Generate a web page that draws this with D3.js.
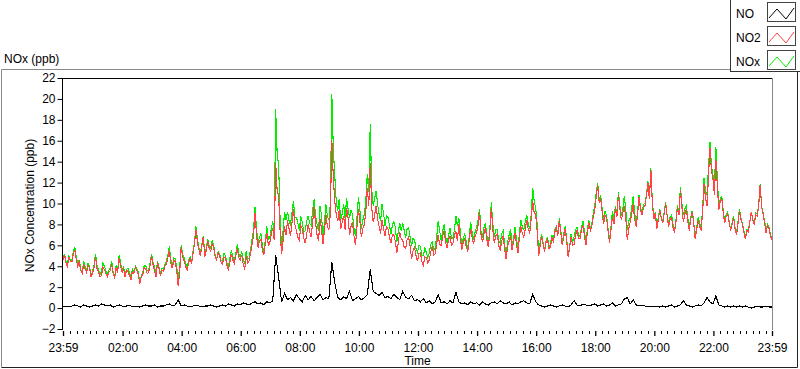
<!DOCTYPE html>
<html>
<head>
<meta charset="utf-8">
<script src="https://cdn.jsdelivr.net/npm/d3@7/dist/d3.min.js"></script>
<style>
  body { margin: 0; background: #fff; }
  text { font-family: "Liberation Sans", Arial, sans-serif; fill: #000; }
</style>
</head>
<body>
<div id="chart"></div>
<script>

// logging window 23:59 -> 23:59 next day
const START = new Date(2000, 0, 1, 23, 59);
const END = new Date(2000, 0, 2, 23, 59);
// NO2 / NOx read every 3 min, NO every 6 min
const STEP_NOX_MIN = 3;
const STEP_NO_MIN = 6;

const seriesNames = ["NO", "NO2", "NOx"];
const seriesColors = ["#000000", "#ff4444", "#00ee00"];

const yTicks = [-2, 0, 2, 4, 6, 8, 10, 12, 14, 16, 18, 20, 22];
const timeTickLabels = ["23:59", "02:00", "04:00", "06:00", "08:00", "10:00", "12:00",
                        "14:00", "16:00", "18:00", "20:00", "22:00", "23:59"];

const NO = [
  0.1,0.2,0.1,0.2,0.3,0.2,0.1,0.3,0.2,0.1,
  0.2,0.3,0.2,0.4,0.3,0.2,0.3,0.1,0.2,0.3,
  0.2,0.1,0.3,0.2,0.1,0.2,0.1,0.2,0.3,0.2,
  0.2,0.3,0.1,0.2,0.2,0.3,0.4,0.2,0.3,0.8,
  0.2,0.3,0.2,0.1,0.2,0.3,0.2,0.1,0.2,0.2,
  0.3,0.2,0.1,0.2,0.3,0.2,0.4,0.3,0.2,0.4,
  0.3,0.5,0.4,0.3,0.5,0.6,0.4,0.5,0.3,0.6,
  0.5,0.7,5.1,2.9,0.6,1.4,0.8,1.0,0.7,1.3,
  0.9,0.6,1.2,0.8,1.1,0.7,1.0,1.3,0.8,1.0,
  0.9,4.4,2.4,1.0,0.8,1.1,0.9,1.6,0.7,0.9,
  1.1,0.8,1.0,1.3,3.7,1.6,1.4,1.2,1.5,1.0,
  1.1,0.9,1.3,1.0,0.8,1.6,1.0,0.9,1.2,0.7,
  0.8,0.6,0.9,0.5,0.7,0.4,0.6,1.3,0.5,0.6,
  0.4,0.7,0.5,1.5,0.6,0.4,0.5,0.3,0.6,0.4,
  0.5,0.3,0.6,0.4,0.3,0.5,0.6,0.4,0.7,0.5,
  0.4,0.6,0.3,0.5,0.4,0.6,0.7,0.5,0.4,1.35,
  0.6,0.3,0.2,0.1,0.2,0.3,0.2,0.1,0.2,0.3,
  0.2,0.1,0.3,0.7,0.3,0.2,0.4,0.3,0.2,0.3,
  0.4,0.2,0.3,0.4,0.2,0.3,0.5,0.2,0.3,0.4,
  0.85,1.0,0.4,0.8,0.3,0.2,0.3,0.2,0.1,0.2,
  0.1,0.2,0.1,0.2,0.1,0.2,0.3,0.1,0.2,0.3,
  0.7,0.3,0.2,0.1,0.2,0.3,0.2,0.5,1.0,0.6,
  0.4,1.15,0.3,0.2,0.1,0.2,0.1,0.2,0.1,0.2,
  0.1,0.2,0.1,0.0,0.1,0.2,0.1,0.1,0.2,0.1,
  0.1
];

const NO2 = [
  4.6,5.1, 4.3,4.0, 4.9,4.5, 4.4,5.2, 5.5,4.6, 4.0,4.4, 3.6,3.3, 4.2,3.7, 3.4,4.1, 3.8,3.0,
  3.3,3.9, 4.9,3.8, 3.5,3.0, 3.1,3.9, 3.7,3.3, 3.0,3.4, 3.6,4.2, 3.2,2.9, 3.9,3.4, 4.8,4.0,
  3.4,3.8, 3.0,3.6, 3.5,3.1, 2.7,3.5, 3.3,3.9, 3.6,3.2, 2.3,3.0, 3.2,3.9, 3.8,3.3, 3.4,4.1,
  5.0,4.1, 3.6,3.0, 4.4,3.8, 3.1,3.6, 3.5,4.0, 4.2,4.8, 5.5,4.3, 3.8,4.6, 4.4,3.6, 2.1,3.4,
  5.8,4.9, 4.5,4.0, 3.6,4.3, 4.8,4.2, 5.2,6.1, 7.5,6.3, 5.6,5.0, 6.0,6.8, 4.9,5.5, 6.4,5.7,
  5.4,6.2, 5.8,4.9, 4.6,5.3, 5.0,4.4, 4.2,4.9, 4.8,4.1, 3.6,4.4, 5.2,4.6, 4.3,5.0, 5.7,4.8,
  4.6,5.1, 4.2,3.7, 5.0,4.3, 4.5,5.3, 6.1,6.9, 9.1,7.0, 5.8,6.4, 6.6,5.5, 5.1,6.2, 7.2,6.0,
  6.2,7.1, 7.6,6.5, 13.9,11.2, 10.8,7.3, 5.2,6.4, 7.8,7.0, 8.4,7.6, 6.9,8.1, 9.5,8.0, 7.4,6.8,
  6.5,7.9, 7.6,6.7, 6.2,7.1, 8.0,7.3, 6.8,8.2, 9.7,8.1, 7.0,6.4, 8.5,7.6, 6.1,7.4, 8.9,7.8,
  7.5,9.0, 16.1,12.5, 10.2,8.9, 8.3,9.4, 7.6,8.2, 8.8,7.5, 9.6,8.6, 7.0,7.8, 8.2,6.9, 6.0,7.7,
  9.5,8.3, 6.8,7.6, 8.0,9.2, 11.5,9.8, 13.9,9.6, 8.2,8.9, 9.8,8.5, 7.8,7.1, 8.4,7.6, 6.9,7.8,
  7.6,6.8, 6.2,7.0, 7.0,6.4, 5.3,6.3, 7.3,6.6, 6.5,5.8, 5.7,6.6, 6.8,5.9, 4.7,5.5, 5.8,5.0,
  4.5,5.2, 5.3,4.4, 4.1,4.9, 4.8,4.3, 4.6,5.4, 5.9,5.1, 5.2,6.2, 7.0,6.1, 6.0,6.8, 7.4,6.3,
  5.8,6.5, 6.9,6.0, 6.2,7.0, 7.3,6.4, 8.0,6.7, 5.6,6.3, 6.6,5.9, 5.4,6.5, 7.6,6.7, 6.1,6.9,
  7.2,7.9, 9.2,7.0, 6.3,7.1, 7.7,6.5, 5.8,7.3, 9.6,7.5, 6.2,6.9, 7.1,6.0, 5.5,6.4, 6.9,5.6,
  4.7,5.9, 6.4,7.0, 5.6,6.3, 7.2,6.1, 5.3,6.8, 7.8,7.1, 6.8,7.6, 8.4,7.5, 7.2,8.6, 10.2,9.1,
  9.0,7.4, 5.0,5.9, 6.9,6.1, 5.4,6.3, 6.6,5.7, 5.8,6.7, 6.4,7.3, 7.7,6.9, 8.4,7.2, 6.0,6.8,
  7.6,6.4, 4.9,5.8, 6.8,6.0, 6.1,7.0, 7.4,6.7, 6.6,7.5, 7.9,7.0, 6.0,7.2, 8.2,7.4, 7.8,8.7,
  9.4,10.6, 11.8,10.1, 10.5,9.2, 8.0,8.9, 8.6,7.4, 6.2,7.5, 8.8,8.0, 9.6,8.7, 10.8,9.5, 8.4,9.1,
  9.8,8.6, 6.5,7.6, 8.2,9.0, 9.9,8.5, 7.8,8.9, 10.6,9.4, 8.9,9.6, 9.8,10.7, 12.0,10.4, 13.2,10.0,
  8.5,9.1, 7.6,8.4, 9.4,8.6, 8.1,9.0, 10.0,8.8, 7.8,8.5, 8.6,7.7, 7.2,8.3, 9.6,8.9, 11.3,9.7,
  8.2,9.0, 9.5,8.3, 7.4,8.5, 9.2,8.1, 6.6,7.5, 8.4,7.8, 7.5,9.0, 11.9,10.5, 9.8,12.6, 15.3,13.1,
  12.4,10.8, 14.2,11.6, 9.4,10.2, 10.5,9.1, 8.1,8.8, 9.0,8.2, 7.4,8.0, 8.6,7.6, 7.0,8.1, 9.3,8.5,
  8.0,7.2, 6.6,7.4, 7.3,8.3, 9.2,8.4, 8.0,8.9, 8.8,9.8, 11.8,9.6, 9.0,8.1, 7.2,7.9, 7.6,6.9,
  6.5
];

const NOx = [
  4.7,5.2, 4.5,4.2, 5.0,4.6, 4.6,5.4, 5.8,4.9, 4.2,4.6, 3.7,3.4, 4.5,4.0, 3.6,4.3, 3.9,3.1,
  3.5,4.1, 5.2,4.1, 3.7,3.2, 3.5,4.3, 4.0,3.6, 3.2,3.6, 3.9,4.5, 3.3,3.0, 4.1,3.6, 5.1,4.3,
  3.6,4.0, 3.1,3.7, 3.8,3.4, 2.9,3.7, 3.4,4.0, 3.8,3.4, 2.4,3.1, 3.4,4.1, 4.1,3.6, 3.6,4.3,
  5.2,4.3, 3.9,3.3, 4.5,3.9, 3.3,3.8, 3.7,4.2, 4.5,5.1, 5.9,4.7, 4.0,4.8, 4.7,3.9, 2.9,3.8,
  6.0,5.1, 4.8,4.3, 3.8,4.5, 4.9,4.3, 5.4,6.3, 7.8,6.6, 5.8,5.2, 6.1,6.9, 5.1,5.7, 6.6,5.9,
  5.7,6.5, 6.0,5.1, 4.7,5.4, 5.2,4.6, 4.5,5.2, 5.0,4.3, 4.0,4.8, 5.5,4.9, 4.5,5.2, 6.1,5.2,
  4.9,5.4, 4.7,4.2, 5.4,4.7, 4.8,5.6, 6.6,7.4, 9.7,7.6, 6.2,6.8, 7.1,6.0, 5.4,6.5, 7.8,6.6,
  6.7,7.6, 8.3,7.2, 19.0,14.7, 13.7,8.3, 5.8,7.4, 9.2,8.4, 9.2,8.4, 7.9,9.1, 10.2,8.7, 8.7,8.1,
  7.4,8.8, 8.2,7.3, 7.4,8.3, 8.8,8.1, 7.9,9.3, 10.4,8.8, 8.0,7.4, 9.8,8.9, 6.9,8.2, 9.9,8.8,
  8.4,9.9, 20.5,15.3, 12.6,10.2, 9.3,10.4, 8.4,9.0, 9.9,8.6, 10.5,9.5, 8.6,9.4, 8.9,7.6, 6.9,8.6,
  10.6,9.4, 7.6,8.4, 9.0,10.2, 12.8,11.1, 17.6,11.4, 9.8,10.5, 11.2,9.9, 9.0,8.3, 9.9,9.1, 7.9,8.8,
  8.7,7.9, 7.1,7.9, 8.3,7.7, 6.3,7.3, 8.1,7.4, 8.1,7.4, 6.7,7.6, 7.7,6.8, 5.9,6.7, 6.5,5.7,
  5.3,6.0, 5.9,5.0, 5.0,5.8, 5.3,4.8, 5.3,6.1, 6.3,5.5, 5.8,6.8, 8.3,7.4, 6.5,7.3, 8.0,6.9,
  6.2,6.9, 7.6,6.7, 6.7,7.5, 8.8,7.9, 8.6,7.3, 6.0,6.7, 7.1,6.4, 5.7,6.8, 8.2,7.3, 6.5,7.3,
  7.7,8.4, 9.5,7.3, 6.9,7.7, 8.1,6.9, 6.1,7.6, 10.1,8.0, 6.8,7.5, 7.5,6.4, 6.2,7.1, 7.4,6.1,
  5.1,6.3, 7.0,7.6, 5.9,6.6, 7.7,6.6, 5.7,7.2, 8.4,7.7, 7.5,8.3, 8.9,8.0, 7.6,9.0, 11.5,10.2,
  9.6,8.0, 5.3,6.2, 7.1,6.3, 5.5,6.4, 6.8,5.9, 6.1,7.0, 6.6,7.5, 7.8,7.0, 8.6,7.4, 6.3,7.1,
  7.8,6.6, 5.0,5.9, 7.1,6.3, 6.8,7.5, 7.7,7.0, 6.8,7.7, 8.3,7.4, 6.3,7.5, 8.4,7.6, 8.1,9.0,
  9.8,11.0, 12.0,10.3, 10.8,9.5, 8.4,9.3, 8.8,7.6, 6.5,7.8, 9.3,8.5, 9.8,8.9, 11.1,9.8, 8.8,9.5,
  10.7,9.5, 7.5,8.3, 8.6,9.6, 10.7,9.1, 8.1,9.2, 10.8,9.6, 9.2,9.9, 10.0,10.9, 12.1,10.5, 13.4,10.2,
  8.6,9.2, 7.8,8.6, 9.5,8.7, 8.3,9.2, 10.1,8.9, 8.0,8.7, 8.9,8.0, 7.3,8.4, 9.8,9.1, 11.6,10.0,
  8.9,9.5, 9.8,8.6, 7.6,8.7, 9.3,8.2, 6.8,7.7, 8.7,8.1, 7.7,9.3, 12.4,11.2, 10.8,13.4, 15.9,13.6,
  12.8,11.6, 15.4,12.3, 9.7,10.5, 10.7,9.3, 8.2,9.0, 9.2,8.3, 7.5,8.2, 8.8,7.7, 7.1,8.3, 9.5,8.6,
  8.1,7.4, 6.8,7.5, 7.4,8.3, 9.2,8.5, 8.1,9.1, 9.0,9.9, 11.9,9.7, 9.1,8.3, 7.4,8.0, 7.7,7.0,
  6.6
];

const W = 800, H = 369;
const PLOT = {left: 63, top: 78, right: 772, bottom: 329};

const svg = d3.select("#chart")
  .append("svg")
    .attr("width", W)
    .attr("height", H);

// outer panel frame
svg.append("line").attr("x1", 1.5).attr("x2", 730).attr("y1", 69.5).attr("y2", 69.5).attr("stroke", "#8a8a8a");
svg.append("line").attr("x1", 1.5).attr("x2", 1.5).attr("y1", 69.5).attr("y2", 367.5).attr("stroke", "#8a8a8a");
svg.append("line").attr("x1", 1.5).attr("x2", 797.5).attr("y1", 367.5).attr("y2", 367.5).attr("stroke", "#222");
svg.append("line").attr("x1", 797.5).attr("x2", 797.5).attr("y1", 72).attr("y2", 367.5).attr("stroke", "#222");

svg.append("text")
  .attr("x", 4)
  .attr("y", 63)
  .style("font-size", "12px")
  .text("NOx (ppb)");

// scales
const x = d3.scaleTime()
  .domain([START, END])
  .range([PLOT.left, PLOT.right]);

const y = d3.scaleLinear()
  .domain([-2, 22])
  .range([PLOT.bottom, PLOT.top]);

// plot area border
svg.append("line").attr("x1", PLOT.left - 0.5).attr("x2", PLOT.right).attr("y1", PLOT.top + 0.5).attr("y2", PLOT.top + 0.5).attr("stroke", "#000");
svg.append("line").attr("x1", PLOT.right + 0.5).attr("x2", PLOT.right + 0.5).attr("y1", PLOT.top).attr("y2", PLOT.bottom + 1).attr("stroke", "#8a8a8a");

// y axis
const yAxis = svg.append("g")
  .attr("transform", "translate(" + (PLOT.left - 0.5) + ",0)")
  .call(d3.axisLeft(y).tickValues(yTicks).tickSize(5).tickSizeOuter(0).tickPadding(2));
yAxis.select(".domain").attr("stroke", "#000").attr("d", "M0," + (PLOT.bottom + 1) + "V" + PLOT.top);
yAxis.selectAll(".tick line").attr("stroke", "#000");
yAxis.selectAll("text").style("font-size", "12px").attr("font-family", null);

// x axis, major ticks every 2 h plus both ends
const majorTimes = timeTickLabels.map((lbl, i) => {
  if (i === 0) return START;
  if (i === timeTickLabels.length - 1) return END;
  return new Date(2000, 0, 2, i * 2, 0);
});

const xAxis = svg.append("g")
  .attr("transform", "translate(0," + (PLOT.bottom + 2) + ")")
  .call(d3.axisBottom(x).tickValues(majorTimes)
    .tickFormat((d, i) => timeTickLabels[i])
    .tickSize(5).tickSizeOuter(0).tickPadding(7));
xAxis.select(".domain").remove();
xAxis.selectAll(".tick line").attr("stroke", "#000").attr("stroke-width", 1.3);
xAxis.selectAll("text").style("font-size", "12px").attr("font-family", null);

// minor ticks, 9 per 2 h
const minorTimes = [];
for (let k = 0; k <= 108; k++) {
  const t = new Date(2000, 0, 2, 0, 0, k * 800);
  if (k % 9 !== 0 && t < END) minorTimes.push(t);
}
svg.append("g").selectAll("line")
  .data(minorTimes)
  .join("line")
    .attr("x1", (d) => Math.round(x(d)) + 0.5)
    .attr("x2", (d) => Math.round(x(d)) + 0.5)
    .attr("y1", PLOT.bottom + 2)
    .attr("y2", PLOT.bottom + 5)
    .attr("stroke", "#000");

svg.append("text")
  .attr("x", (PLOT.left + PLOT.right) / 2)
  .attr("y", 365)
  .attr("text-anchor", "middle")
  .style("font-size", "12px")
  .text("Time");

svg.append("text")
  .attr("transform", "translate(34," + ((PLOT.top + PLOT.bottom) / 2 + 2) + ") rotate(-90)")
  .attr("text-anchor", "middle")
  .style("font-size", "12px")
  .text("NOx Concentration (ppb)");

// plot lines, NOx underneath so NO2 sits on top
svg.append("clipPath").attr("id", "clip")
  .append("rect")
    .attr("x", PLOT.left).attr("y", PLOT.top + 1)
    .attr("width", PLOT.right - PLOT.left).attr("height", PLOT.bottom - PLOT.top);

const lineFor = (stepMin) => d3.line()
  .x((d, i) => x(new Date(START.getTime() + i * stepMin * 60000)))
  .y((d) => y(d));

const plotData = [
  {name: "NOx", values: NOx, step: STEP_NOX_MIN, color: seriesColors[2]},
  {name: "NO2", values: NO2, step: STEP_NOX_MIN, color: seriesColors[1]},
  {name: "NO", values: NO, step: STEP_NO_MIN, color: seriesColors[0]}
];

svg.append("g")
  .attr("clip-path", "url(#clip)")
  .selectAll("path")
  .data(plotData)
  .join("path")
    .attr("fill", "none")
    .attr("stroke", (d) => d.color)
    .attr("stroke-width", 1.1)
    .attr("shape-rendering", "crispEdges")
    .attr("d", (d) => lineFor(d.step)(d.values));

// legend
const legend = svg.append("g");
legend.append("rect")
  .attr("x", 730.5).attr("y", -1)
  .attr("width", 70).attr("height", 72.5)
  .attr("fill", "#fff").attr("stroke", "#333");

seriesNames.forEach((name, i) => {
  const top = 2 + i * 24;
  legend.append("text")
    .attr("x", 736)
    .attr("y", top + 16)
    .style("font-size", "12px")
    .text(name);
  legend.append("rect")
    .attr("x", 767.5).attr("y", top + 0.5)
    .attr("width", 28).attr("height", 19)
    .attr("fill", "#fff").attr("stroke", "#444");
  legend.append("path")
    .attr("d", "M769," + (top + 16) + "L777," + (top + 7) + "L786," + (top + 17) + "L794," + (top + 6))
    .attr("fill", "none")
    .attr("stroke", seriesColors[i])
    .attr("stroke-width", 1);
});

</script>
</body>
</html>
